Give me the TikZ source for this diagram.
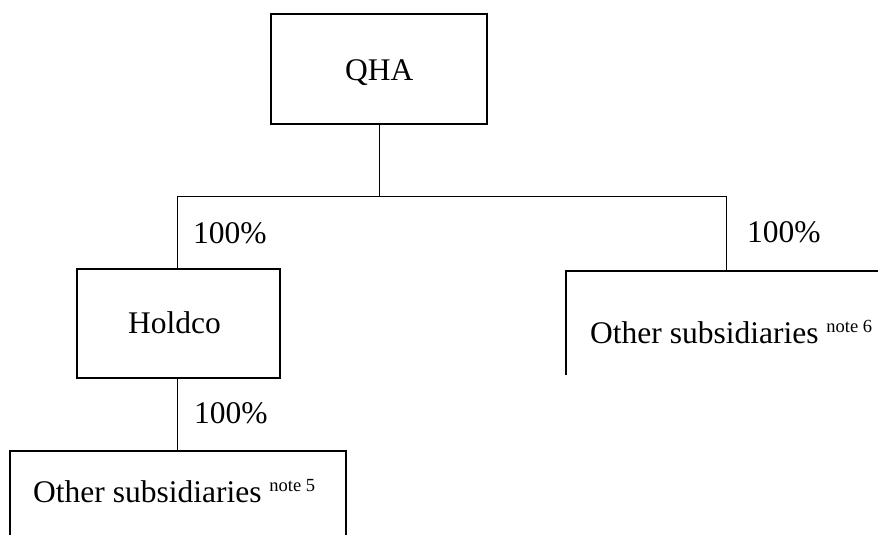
\documentclass[tikz,border=0pt]{standalone}
\usepackage{fontspec}
\setmainfont{Liberation Serif}
\begin{document}
\begin{tikzpicture}[x=1pt,y=-1pt,
  box/.style={draw, line width=1.5pt, inner sep=0pt},
  boxline/.style={line width=1.5pt},
  ghost/.style={inner sep=0pt},
  edge/.style={line width=1pt},
  txt/.style={anchor=base west, inner sep=0pt, font=\fontsize{31.5}{36}\selectfont}]
\useasboundingbox (0,0) rectangle (878,535);
\clip (0,0) rectangle (878,535);
% boxes
\node[box, line width=1.8pt, minimum width=216pt, minimum height=110pt] (qha) at (379,69) {};
\node[box, minimum width=203pt, minimum height=109pt] (holdco) at (178.5,323.5) {};
\node[box, minimum width=336pt, minimum height=120pt] (sub5) at (178,511) {};
\node[ghost, minimum width=340pt, minimum height=104pt] (sub6) at (736,323) {};
\draw[boxline] (sub6.south west) -- (sub6.north west) -- (sub6.north east);
% texts
\node[txt] (qhat) at (345,81) {QHA};
\node[txt] (holdcot) at (128,333) {Holdco};
\node[txt] (sub5t) at (33,502) {Other subsidiaries \raisebox{11pt}{\fontsize{18.5}{20}\selectfont note 5}};
\node[txt] (sub6t) at (590,343) {Other subsidiaries \raisebox{11pt}{\fontsize{18.5}{20}\selectfont note 6}};
% connectors
\coordinate (bus) at (379,196);
\coordinate (busL) at (177,196);
\coordinate (busR) at (726,196);
\draw[edge] (qha.south) -- (bus);
\draw[edge] (busL) -- (busR);
\draw[edge] (busL) -- (busL |- holdco.north);
\draw[edge] (busR) -- (busR |- sub6.north);
\draw[edge] (busL |- holdco.south) -- (busL |- sub5.north);
% percentages
\node[txt] (pL) at (193,243) {100\%};
\node[txt] (pR) at (747,242) {100\%};
\node[txt] (pD) at (194,423) {100\%};
\end{tikzpicture}
\end{document}
